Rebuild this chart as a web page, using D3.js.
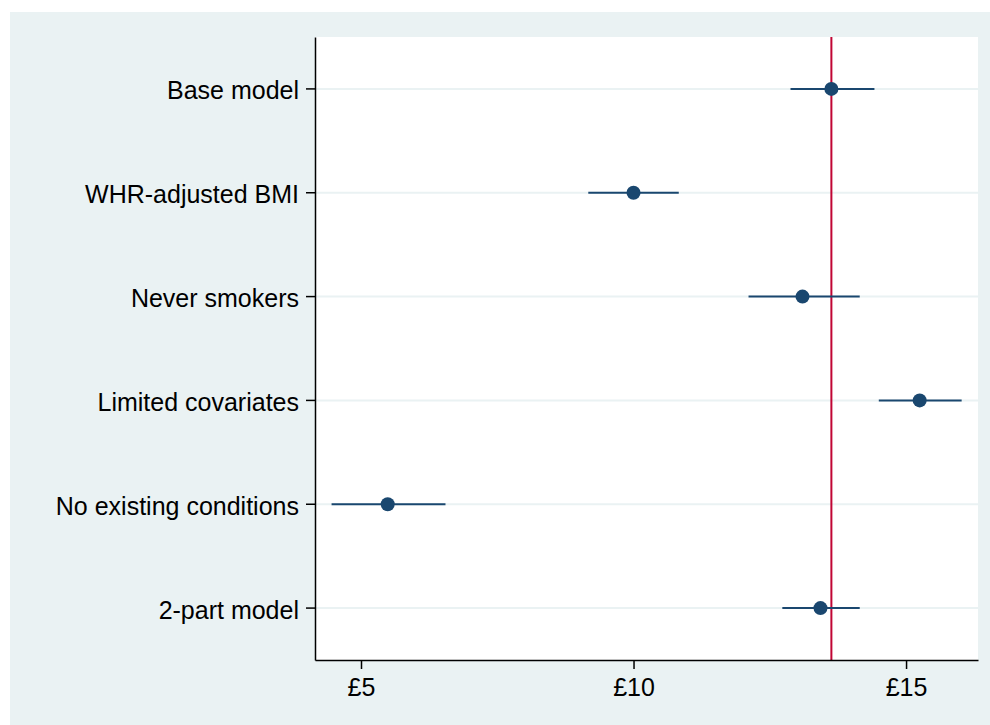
<!DOCTYPE html>
<html>
<head>
<meta charset="utf-8">
<script src="https://cdn.jsdelivr.net/npm/d3@7"></script>
<style>
  html, body { margin: 0; padding: 0; background: #ffffff; }
  svg { display: block; }
  text { font-family: "Liberation Sans", Arial, sans-serif; fill: #000; }
</style>
</head>
<body>
<svg id="chart" width="990" height="725"></svg>
<script>
const categories = ["Base model", "WHR-adjusted BMI", "Never smokers", "Limited covariates", "No existing conditions", "2-part model"];
const estimates = [13.63, 10.00, 13.10, 15.25, 5.49, 13.43];
const ciLower   = [12.88, 9.17, 12.11, 14.50, 4.46, 12.73];
const ciUpper   = [14.42, 10.83, 14.15, 16.02, 6.55, 14.15];
const xTicks = [5, 10, 15];
const xTickLabels = ["£5", "£10", "£15"];
const refLine = 13.63;

const svg = d3.select("#chart");
const W = 990, H = 725;
const plot = { left: 315, top: 37, right: 978, bottom: 660 };

svg.append("rect").attr("x", 10).attr("y", 12).attr("width", W - 10).attr("height", H - 12).attr("fill", "#eaf2f3");
svg.append("rect").attr("x", plot.left).attr("y", plot.top)
  .attr("width", plot.right - plot.left).attr("height", plot.bottom - plot.top).attr("fill", "#ffffff");

const x = d3.scaleLinear().domain([4.156, 16.32]).range([plot.left, plot.right]);
const y = d3.scaleBand().domain(categories).range([plot.top, plot.bottom]).padding(0);
const yc = c => y(c) + y.bandwidth() / 2;

// gridlines
svg.append("g").selectAll("line").data(categories).join("line")
  .attr("x1", plot.left).attr("x2", plot.right)
  .attr("y1", d => yc(d)).attr("y2", d => yc(d))
  .attr("stroke", "#eaf2f3").attr("stroke-width", 2);

// reference line
svg.append("line")
  .attr("x1", x(refLine)).attr("x2", x(refLine))
  .attr("y1", plot.top).attr("y2", plot.bottom)
  .attr("stroke", "#c10534").attr("stroke-width", 2);

const data = categories.map((c, i) => ({ c, est: estimates[i], lo: ciLower[i], hi: ciUpper[i] }));

// CIs
svg.append("g").selectAll("line").data(data).join("line")
  .attr("x1", d => x(d.lo)).attr("x2", d => x(d.hi))
  .attr("y1", d => yc(d.c)).attr("y2", d => yc(d.c))
  .attr("stroke", "#1a476f").attr("stroke-width", 2);

// points
svg.append("g").selectAll("circle").data(data).join("circle")
  .attr("cx", d => x(d.est)).attr("cy", d => yc(d.c)).attr("r", 7)
  .attr("fill", "#1a476f");

// x axis
const xAxis = d3.axisBottom(x).tickValues(xTicks).tickFormat((d, i) => xTickLabels[i]).tickSize(9).tickPadding(9).tickSizeOuter(0);
const gx = svg.append("g").attr("transform", `translate(0,${plot.bottom})`).call(xAxis);
gx.select(".domain").attr("stroke", "#000").attr("stroke-width", 1.5);
gx.selectAll(".tick line").attr("stroke", "#000").attr("stroke-width", 1.5);
gx.selectAll(".tick text").attr("font-size", "25px").attr("font-family", "Liberation Sans, Arial, sans-serif").attr("fill", "#000");

// y axis
const yAxis = d3.axisLeft(y).tickSize(9).tickPadding(7).tickSizeOuter(0);
const gy = svg.append("g").attr("transform", `translate(${plot.left},0)`).call(yAxis);
gy.select(".domain").attr("stroke", "#000").attr("stroke-width", 1.5);
gy.selectAll(".tick line").attr("stroke", "#000").attr("stroke-width", 1.5);
gy.selectAll(".tick text").attr("font-size", "25px").attr("dy", "0.42em").attr("font-family", "Liberation Sans, Arial, sans-serif").attr("fill", "#000");
</script>
</body>
</html>
